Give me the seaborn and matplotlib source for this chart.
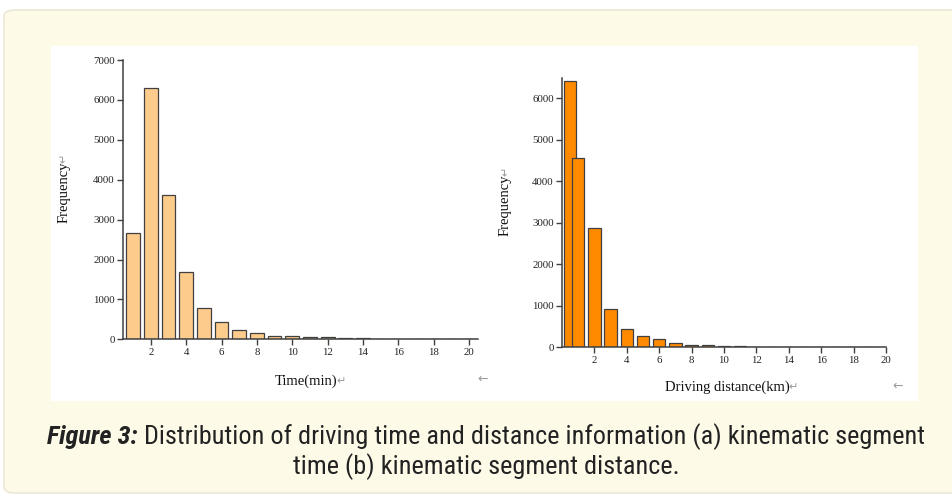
import numpy as np
import pandas as pd
import matplotlib
matplotlib.use("Agg")
import matplotlib.pyplot as plt
from matplotlib.patches import FancyBboxPatch, Rectangle
from matplotlib import font_manager
import seaborn as sns

# ---- data ----
time_bins = list(range(1, 21))
time_freq = [2665, 6307, 3609, 1696, 785, 434, 234, 150, 84, 75,
             58, 50, 33, 25, 18, 12, 10, 8, 6, 5]

dist_first_bin = [0.5]
dist_first_freq = [6417]
dist_bins = list(range(1, 20))
dist_freq = [4564, 2880, 914, 441, 281, 193, 104, 64, 48, 32,
             24, 16, 12, 10, 8, 6, 5, 4, 3]

xticks = [2, 4, 6, 8, 10, 12, 14, 16, 18, 20]
left_yticks = [0, 1000, 2000, 3000, 4000, 5000, 6000, 7000]
right_yticks = [0, 1000, 2000, 3000, 4000, 5000, 6000]

caption_bold = "Figure 3:"
caption_rest = " Distribution of driving time and distance information (a) kinematic segment"
caption_line2 = "time (b) kinematic segment distance."

# ---- style ----
sns.set_theme(style="white")
serif = ["Liberation Serif", "DejaVu Serif"]
plt.rcParams["font.family"] = serif

avail = {f.name for f in font_manager.fontManager.ttflist}
cap_font = "Open Sans"
for cand in ["Liberation Sans Narrow", "Roboto Condensed", "Open Sans Condensed",
             "Noto Sans Condensed", "Noto Sans Display", "Noto Sans"]:
    if cand in avail:
        cap_font = cand
        break

W, H = 952, 499
fig = plt.figure(figsize=(W / 100, H / 100), dpi=100, facecolor="white")

def fx(px):
    return px / W

def fy(py):
    return 1 - py / H

# cream panel and white figure area (behind axes)
fig.patches.append(FancyBboxPatch((fx(4), fy(493)), fx(1000) - fx(4), fy(10) - fy(493),
                                  boxstyle="round,pad=0,rounding_size=0.012",
                                  transform=fig.transFigure, facecolor="#FEFAE8",
                                  edgecolor="#ECE8D6", linewidth=1.2, zorder=-3))
fig.patches.append(Rectangle((fx(51), fy(401)), fx(918) - fx(51), fy(46) - fy(401),
                             transform=fig.transFigure, facecolor="white",
                             edgecolor="none", zorder=-2))

edge = "#404040"
spine_c = "#404040"

def style_axes(ax):
    sns.despine(ax=ax)
    for s in ("left", "bottom"):
        ax.spines[s].set_color(spine_c)
        ax.spines[s].set_linewidth(1.1)
    ax.tick_params(axis="both", which="both", direction="out", length=4, width=1,
                   color=spine_c, labelsize=7.8, labelcolor="#222222", pad=2,
                   bottom=True, left=True)
    ax.set_facecolor("none")
    for lab in ax.get_xticklabels() + ax.get_yticklabels():
        lab.set_family(serif)

# ---- left chart ----
axL = fig.add_axes([fx(123), fy(339.3), fx(478) - fx(123), fy(60) - fy(339.3)])
dfL = pd.DataFrame({"x": time_bins, "y": time_freq})
sns.barplot(data=dfL, x="x", y="y", native_scale=True, color="#FDCB8B",
            saturation=1, width=0.78, edgecolor=edge, linewidth=0.9,
            errorbar=None, ax=axL)
axL.set_xlim(0.43, 20.5)
axL.set_ylim(0, 7000)
axL.set_xticks(xticks)
axL.set_yticks(left_yticks)
style_axes(axL)
axL.set_xlabel("Time(min)", fontsize=10.5, color="#111111")
axL.set_ylabel("Frequency", fontsize=10.5, color="#111111")
axL.xaxis.set_label_coords(0.515, -0.125)
axL.yaxis.set_label_coords(-0.148, 0.527)

# ---- right chart ----
axR = fig.add_axes([fx(562), fy(347.3), fx(886) - fx(562), fy(78.3) - fy(347.3)])
dfR1 = pd.DataFrame({"x": dist_first_bin, "y": dist_first_freq})
dfR = pd.DataFrame({"x": dist_bins, "y": dist_freq})
sns.barplot(data=dfR1, x="x", y="y", native_scale=True, color="#FF8A00",
            saturation=1, width=0.78, edgecolor=edge, linewidth=0.9,
            errorbar=None, ax=axR)
sns.barplot(data=dfR, x="x", y="y", native_scale=True, color="#FF8A00",
            saturation=1, width=0.76, edgecolor=edge, linewidth=0.9,
            errorbar=None, ax=axR)
axR.set_xlim(0, 20)
axR.set_ylim(0, 6480)
axR.set_xticks(xticks)
axR.set_yticks(right_yticks)
style_axes(axR)
axR.set_xlabel("Driving distance(km)", fontsize=10.5, color="#111111")
axR.set_ylabel("Frequency", fontsize=10.5, color="#111111")
axR.xaxis.set_label_coords(0.509, -0.122)
axR.yaxis.set_label_coords(-0.155, 0.529)

# ---- return-mark glyphs next to labels ----
fig.canvas.draw()
renderer = fig.canvas.get_renderer()
inv = fig.transFigure.inverted()
arrow_fam = ["DejaVu Sans"]
for ax in (axL, axR):
    bb = ax.xaxis.label.get_window_extent(renderer)
    x0, y0 = inv.transform((bb.x1, (bb.y0 + bb.y1) / 2))
    fig.text(x0 - 0.001, y0, "\u21b5", fontsize=8, color="#9a9a9a",
             ha="left", va="center", family=arrow_fam)
    bb = ax.yaxis.label.get_window_extent(renderer)
    x0, y0 = inv.transform(((bb.x0 + bb.x1) / 2, bb.y1))
    fig.text(x0, y0 - 0.003, "\u21b5", fontsize=8, color="#9a9a9a",
             ha="center", va="bottom", rotation=90, family=arrow_fam)

fig.text(fx(483), fy(379), "\u2190", fontsize=9, color="#9a9a9a",
         ha="center", va="center", family=arrow_fam)
fig.text(fx(898), fy(386), "\u2190", fontsize=9, color="#9a9a9a",
         ha="center", va="center", family=arrow_fam)

# ---- caption (font size fitted to the reference line width) ----
cap_fam = [cap_font, "DejaVu Sans"]

def caption_width(size):
    a = fig.text(0, 0, caption_bold, fontsize=size, fontweight="bold",
                 fontstyle="italic", family=cap_fam)
    b = fig.text(0, 0, caption_rest, fontsize=size, family=cap_fam)
    w = a.get_window_extent(renderer).width + b.get_window_extent(renderer).width
    a.remove()
    b.remove()
    return w

base = 15.0
cap_size = base * (924 - 47) / caption_width(base)

t1 = fig.text(fx(47), fy(437), caption_bold, fontsize=cap_size, fontweight="bold",
              fontstyle="italic", family=cap_fam, color="#222222",
              ha="left", va="center")
bb1 = t1.get_window_extent(renderer)
fig.text(inv.transform((bb1.x1, 0))[0], fy(437), caption_rest, fontsize=cap_size,
         family=cap_fam, color="#222222", ha="left", va="center")
fig.text(fx(486), fy(467), caption_line2, fontsize=cap_size,
         family=cap_fam, color="#222222", ha="center", va="center")

fig.savefig("out.png", dpi=100, facecolor="white")
